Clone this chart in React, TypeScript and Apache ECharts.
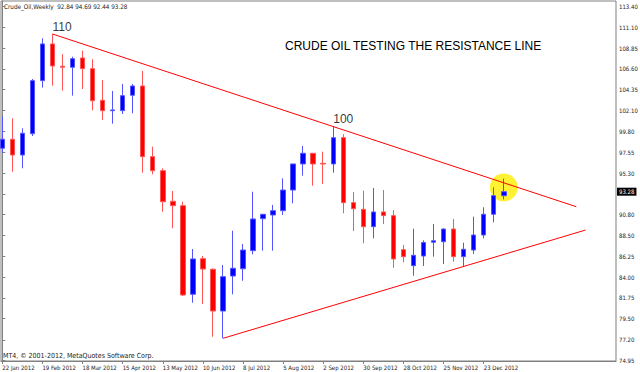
import React, { useEffect, useRef } from 'react';
import * as echarts from 'echarts';

// ---- data (weekly candles, 22 Jan 2012 .. 6 Jan 2013) ----
const symbolName = 'Crude_Oil,Weekly';
const headerQuote = ['92.84', '94.69', '92.44', '93.28'];
const chartTitle = 'CRUDE OIL TESTING THE RESISTANCE LINE';
const copyrightText = 'MT4, \u00a9 2001-2012, MetaQuotes Software Corp.';

const opens = [
  97.99, 98.97, 97.26, 99.57, 105.33, 109.31, 106.89, 106.78, 107.79, 106.63,
  103.2, 102.07, 102.07, 103.74, 104.75, 97.08, 95.56, 92.24, 91.76, 82.15,
  86.01, 84.86, 80.33, 84.13, 84.92, 86.88, 90.35, 90.75, 91.22, 93.46,
  96.29, 97.45, 96.36, 96.29, 99.14, 92.09, 91.37, 89.48, 91.08, 90.68,
  86.99, 85.25, 86.3, 87.79, 87.85, 89.23, 86.23, 86.95, 88.58, 90.83,
  92.84,
];
const closes = [
  98.97, 97.26, 99.62, 105.33, 109.31, 106.92, 106.78, 107.71, 106.63, 103.15,
  102.07, 102.15, 103.7, 104.75, 97.08, 95.56, 92.19, 91.76, 82.07, 85.98,
  84.89, 80.33, 84.06, 84.97, 86.95, 90.32, 90.83, 91.22, 93.46, 96.29,
  97.45, 96.29, 96.29, 99.14, 92.09, 91.43, 89.48, 91.08, 90.68, 85.98,
  86.23, 86.38, 87.77, 87.96, 89.23, 86.23, 87.03, 88.58, 90.83, 92.85,
  93.28,
];
const lows = [
  97.51, 95.45, 95.82, 99.32, 104.57, 104.78, 104.24, 103.7, 104.42, 102.11,
  101.06, 100.66, 101.71, 101.79, 95.34, 95.17, 91.11, 89.31, 81.96, 81.23,
  81.09, 77.54, 77.37, 82.15, 83.62, 86.49, 86.88, 86.88, 90.75, 92.02,
  95.02, 93.93, 94.12, 95.34, 90.94, 89.01, 87.68, 88.22, 89.77, 85.03,
  85.62, 84.16, 85.22, 86.23, 85.43, 85.68, 85.22, 86.52, 88.22, 89.96,
  92.44,
];
const highs = [
  101.42, 101.25, 100.16, 105.51, 109.93, 110.39, 108.19, 107.93, 108.58, 107.65,
  105.4, 104.21, 104.97, 104.97, 106.38, 98.16, 95.82, 93.36, 92.19, 87.06,
  86.3, 84.97, 85.33, 89.05, 87.6, 93.28, 90.83, 91.84, 94.73, 96.29,
  98.24, 97.45, 97.62, 100.41, 99.51, 93.25, 93.39, 93.68, 93.46, 91.29,
  87.5, 89.26, 88.0, 89.77, 89.3, 90.32, 87.75, 90.57, 91.59, 93.76,
  94.69,
];

const xTickIndex = [0, 4, 8, 12, 16, 20, 24, 28, 32, 36, 40, 44, 48];
const xTickLabels = [
  '22 Jan 2012', '19 Feb 2012', '18 Mar 2012', '15 Apr 2012', '13 May 2012',
  '10 Jun 2012', '8 Jul 2012', '5 Aug 2012', '2 Sep 2012', '30 Sep 2012',
  '28 Oct 2012', '25 Nov 2012', '23 Dec 2012',
];
const yTickValues = [
  74.95, 77.2, 79.5, 81.75, 84.0, 86.25, 88.5, 90.8, 93.05, 95.3, 97.55,
  99.8, 102.1, 104.35, 106.6, 108.85, 111.1, 113.4,
];
const yLabelValues = yTickValues.filter((v) => v !== 93.05);
const lastPrice = 93.28;

const resistanceLine = [[5, 110.39], [57.23, 91.65]];
const supportLine = [[22, 77.37], [58.15, 89.12]];
const peakLabels = [[5, 110.39, '110'], [33, 100.41, '100']];
const highlightPoint = [[50, 93.74]];

const tinyFont = '"Liberation Sans Narrow", "DejaVu Sans Condensed", "Liberation Sans", Arial, sans-serif';
const mainFont = '"Liberation Sans", Arial, sans-serif';

export default function App() {
  const ref = useRef<HTMLDivElement>(null);

  useEffect(() => {
    document.body.style.margin = '0';
    if (!ref.current) return;
    const chart = echarts.init(ref.current, undefined, { renderer: 'svg' });

    const candles = opens.map((o, i) => [i, o, closes[i], lows[i], highs[i]]);

    chart.setOption({
      animation: false,
      backgroundColor: '#ffffff',
      grid: {
        left: 1,
        right: 24,
        top: 1,
        bottom: 11,
        show: true,
        borderColor: '#808080',
        borderWidth: 1,
        containLabel: false,
        outerBoundsMode: 'none',
      },
      xAxis: {
        type: 'value',
        min: -0.13,
        max: 61.19,
        splitLine: { show: false },
        axisLine: { show: true, lineStyle: { color: '#808080' } },
        axisTick: { show: true, length: 3, customValues: xTickIndex, lineStyle: { color: '#808080' } },
        axisLabel: {
          customValues: xTickIndex,
          formatter: (v: number) => {
            const k = xTickIndex.indexOf(Math.round(v));
            return k >= 0 ? xTickLabels[k] : '';
          },
          align: 'left',
          margin: 3,
          fontSize: 6,
          fontFamily: tinyFont,
          color: '#222',
          hideOverlap: false,
          showMinLabel: true,
          showMaxLabel: true,
        },
      },
      yAxis: {
        type: 'value',
        position: 'right',
        min: 74.91,
        max: 113.97,
        scale: true,
        splitLine: { show: false },
        axisLine: { show: true, lineStyle: { color: '#808080' } },
        axisTick: { show: true, length: 3, customValues: yTickValues, lineStyle: { color: '#808080' } },
        axisLabel: {
          customValues: yLabelValues,
          formatter: (v: number) => v.toFixed(2),
          margin: 3,
          fontSize: 6,
          fontFamily: tinyFont,
          color: '#222',
        },
      },
      graphic: [
        {
          type: 'text',
          x: 4,
          y: 6,
          style: {
            text: symbolName + '  ' + headerQuote.join(' '),
            font: '6.3px ' + tinyFont,
            fill: '#222',
            verticalAlign: 'middle',
          },
        },
        {
          type: 'text',
          x: 3,
          y: 355.5,
          style: {
            text: copyrightText,
            font: '7px ' + tinyFont,
            fill: '#222',
            verticalAlign: 'middle',
          },
        },
        {
          type: 'text',
          x: 285,
          y: 46,
          style: {
            text: chartTitle,
            font: '12px ' + mainFont,
            fill: '#000',
            verticalAlign: 'middle',
          },
        },
      ],
      series: [
        {
          type: 'scatter',
          data: highlightPoint,
          symbol: 'circle',
          symbolSize: 28,
          itemStyle: { color: '#ffee00' },
          silent: true,
          z: 1,
        },
        {
          type: 'candlestick',
          data: candles,
          encode: { x: 0, y: [1, 2, 3, 4] },
          barWidth: 5,
          itemStyle: {
            color: '#0000ff',
            color0: '#ff0000',
            borderColor: '#5555ff',
            borderColor0: '#ff5555',
            borderWidth: 1,
          },
          silent: true,
          z: 2,
        },
        {
          type: 'line',
          data: resistanceLine,
          symbol: 'none',
          lineStyle: { color: '#ff0000', width: 1 },
          silent: true,
          z: 3,
          markLine: {
            silent: true,
            symbol: ['none', 'none'],
            data: [{ yAxis: lastPrice }],
            lineStyle: { color: 'rgba(255,255,255,0)', width: 1, type: 'solid' },
            label: {
              show: true,
              position: 'end',
              distance: 1,
              formatter: () => lastPrice.toFixed(2),
              color: '#ffffff',
              backgroundColor: '#000000',
              padding: [1, 2, 0, 2],
              fontSize: 6,
              lineHeight: 7,
              fontFamily: tinyFont,
            },
          },
        },
        {
          type: 'line',
          data: supportLine,
          symbol: 'none',
          lineStyle: { color: '#ff0000', width: 1 },
          silent: true,
          z: 3,
        },
        {
          type: 'scatter',
          data: peakLabels,
          symbolSize: 0,
          itemStyle: { color: 'rgba(0,0,0,0)' },
          silent: true,
          z: 4,
          label: {
            show: true,
            position: 'top',
            distance: 1,
            align: 'left',
            formatter: (p: any) => p.value[2],
            fontSize: 12,
            lineHeight: 12,
            fontFamily: mainFont,
            color: '#000',
          },
        },
      ],
    });

    return () => chart.dispose();
  }, []);

  return (
    <div
      ref={ref}
      style={{ position: 'fixed', left: 0, top: 0, width: 640, height: 372 }}
    />
  );
}
